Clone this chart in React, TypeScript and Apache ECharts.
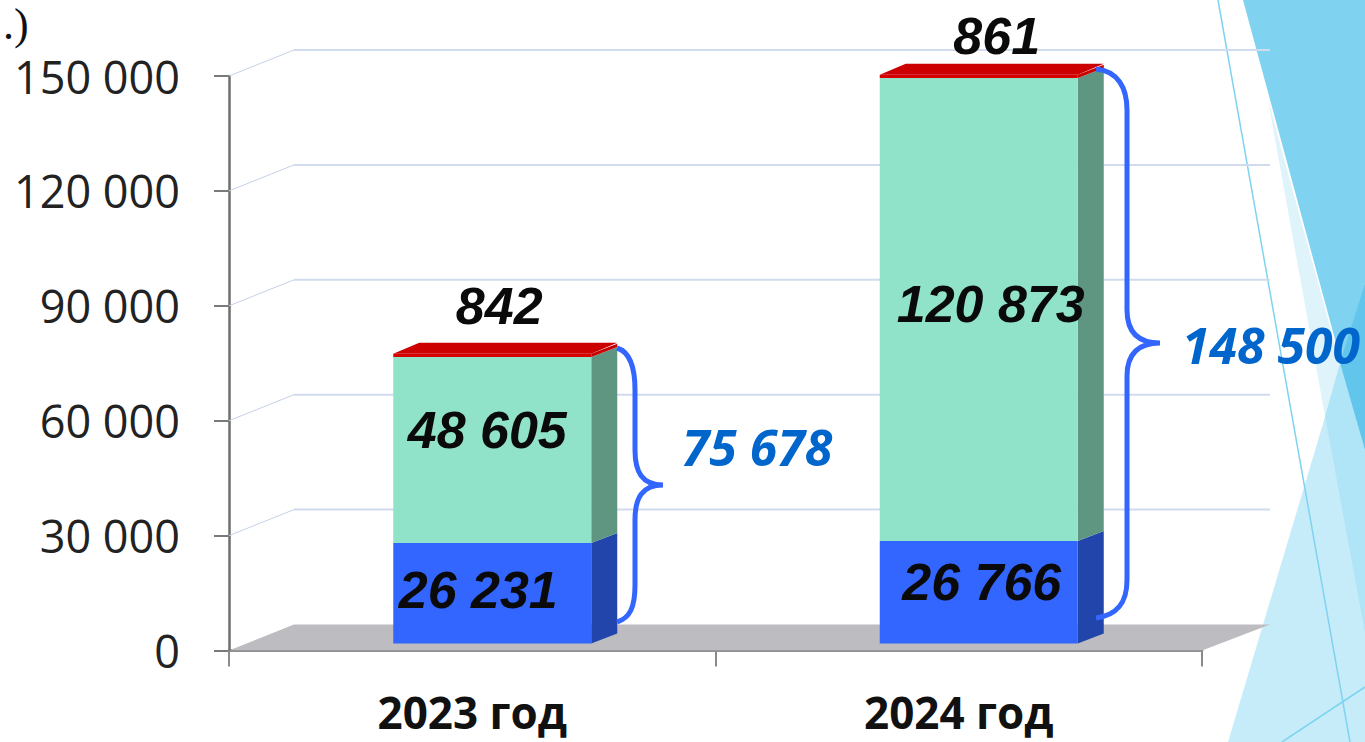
import React, { useEffect, useRef } from "react";
import * as echarts from "echarts";

const categories = ["2023 год", "2024 год"];
const blueValues = [26231, 26766];
const tealValues = [48605, 120873];
const redValues = [842, 861];
const totalLabels = ["75 678", "148 500"];
const yTicks = [0, 30000, 60000, 90000, 120000, 150000];

const fmt = (v: number) => String(v).replace(/\B(?=(\d{3})+$)/g, " ");

const DEPTH_X = 26;
const DEPTH_Y = 10;
const WALL_X = 65;
const WALL_Y = 26;
const BASE_LIFT = 7;
const BAR_SHIFT = 20;
const BAR_WIDTH = 198;

// label nudges relative to each segment: [dx, dy] per category
const blueShift = [[-14, -3], [3, -10]];
const tealShift = [[-5, -20], [12, -6]];
const redShift = [[7, -48], [18, -39]];

const stackSeries = (
  name: string,
  values: number[],
  bases: number[],
  front: string,
  side: string,
  shift: number[][],
  top: string | null,
) => ({
  type: "custom",
  name,
  z: 3,
  silent: true,
  coordinateSystem: "cartesian2d",
  encode: { x: 0, y: 2 },
  data: categories.map((c, i) => [i, bases[i], bases[i] + values[i], values[i]]),
  renderItem: (_p: any, api: any) => {
    const i = api.value(0);
    const c0 = api.coord([i, api.value(1)]);
    const c1 = api.coord([i, api.value(2)]);
    const yb = c0[1] - BASE_LIFT;
    const yt = c1[1] - BASE_LIFT;
    const cx = c0[0] + BAR_SHIFT;
    const xl = cx - BAR_WIDTH / 2;
    const xr = cx + BAR_WIDTH / 2;
    const children: any[] = [
      { type: "polygon", shape: { points: [[xr, yt], [xr + DEPTH_X, yt - DEPTH_Y], [xr + DEPTH_X, yb - DEPTH_Y], [xr, yb]] }, style: { fill: side } },
      { type: "rect", shape: { x: xl, y: yt, width: BAR_WIDTH, height: yb - yt }, style: { fill: front } },
    ];
    if (top) {
      children.push({ type: "polygon", shape: { points: [[xl, yt], [xl + DEPTH_X, yt - DEPTH_Y - 1], [xr + DEPTH_X, yt - DEPTH_Y - 1], [xr, yt]] }, style: { fill: top } });
    }
    const ly = top ? yt : (yt + yb) / 2;
    children.push({
      type: "text",
      style: {
        text: fmt(api.value(3)),
        x: cx + shift[i][0],
        y: ly + shift[i][1],
        align: "center",
        verticalAlign: "middle",
        fontFamily: "Liberation Sans",
        fontWeight: "bold",
        fontStyle: "italic",
        fontSize: 52,
        fill: "#0a0a0a",
      },
    });
    return { type: "group", children };
  },
});

const wallSeries = {
  type: "custom",
  z: 1,
  silent: true,
  coordinateSystem: "cartesian2d",
  encode: { y: 1 },
  data: yTicks.map((t) => [0, t]),
  renderItem: (p: any, api: any) => {
    const v = api.value(1);
    const y = api.coord([0, v])[1];
    const x0 = p.coordSys.x;
    const x1 = x0 + p.coordSys.width;
    if (v === 0) {
      return {
        type: "polygon",
        shape: { points: [[x0, y], [x0 + WALL_X, y - WALL_Y], [x1 + 68, y - WALL_Y], [x1, y]] },
        style: { fill: "#bdbdc1" },
      };
    }
    return {
      type: "group",
      children: [
        { type: "line", shape: { x1: x0, y1: y, x2: x0 + WALL_X, y2: y - WALL_Y }, style: { stroke: "#c5d2e6", lineWidth: 1 } },
        { type: "line", shape: { x1: x0 + WALL_X, y1: y - WALL_Y, x2: x1 + 68, y2: y - WALL_Y }, style: { stroke: "#d0dbee", lineWidth: 2 } },
      ],
    };
  },
};

echarts.graphic.registerShape(
  "brace1",
  echarts.graphic.extendPath("M617 348 C630 352 635 368 635 390 L635 450 C635 472 642 485 663 485 C642 485 635 498 635 520 L635 585 C635 607 630 618 617 622", {}),
);
echarts.graphic.registerShape(
  "brace2",
  echarts.graphic.extendPath("M1096 69 C1118 71 1127 88 1127 110 L1127 310 C1127 332 1138 343 1160 343 C1138 343 1127 354 1127 376 L1127 580 C1127 602 1118 615 1096 618", {}),
);

const poly = (points: number[][], fill: string) => ({ type: "polygon", silent: true, shape: { points }, style: { fill } });
const thin = (x1: number, y1: number, x2: number, y2: number) => ({
  type: "line", silent: true, shape: { x1, y1, x2, y2 }, style: { stroke: "#7fd3f0", lineWidth: 1.5 },
});

const decoration = [
  poly([[1243, 0], [1365, 0], [1365, 450]], "#7fd2f0"),
  poly([[1268, 100], [1325, 416], [1340, 363]], "#dff3fb"),
  poly([[1228, 742], [1365, 283], [1365, 742]], "#c6ecf9"),
  poly([[1325, 416], [1340, 363], [1365, 450], [1365, 633]], "#b0e4f7"),
  poly([[1340, 363], [1365, 283], [1365, 450]], "#62c6ec"),
  thin(1218, 0, 1350, 742),
  thin(1282, 742, 1365, 687),
];

const blueText = (text: string, x: number, y: number) => ({
  type: "text",
  z: 10,
  silent: true,
  style: { text, x, y, align: "center", verticalAlign: "middle", fontFamily: "Open Sans", fontWeight: "bold", fontStyle: "italic", fontSize: 50, fill: "#0066cc" },
});

export default function App() {
  const ref = useRef<HTMLDivElement>(null);
  useEffect(() => {
    const chart = echarts.init(ref.current!, null, { renderer: "svg" });
    chart.setOption({
      animation: false,
      backgroundColor: "#fff",
      grid: { left: 229, right: 163, top: 76, bottom: 91.5, containLabel: false },
      xAxis: {
        type: "category",
        data: categories,
        boundaryGap: true,
        axisLine: { lineStyle: { color: "#6e6e6e", width: 2.5 } },
        axisTick: { show: true, length: 16, lineStyle: { color: "#8a8a8a", width: 2 } },
        axisLabel: { color: "#111", fontFamily: "Open Sans", fontWeight: "bold", fontSize: 44, lineHeight: 44, margin: 39 },
      },
      yAxis: {
        type: "value",
        min: 0,
        max: 150000,
        interval: 30000,
        splitLine: { show: false },
        axisLine: { show: true, lineStyle: { color: "#6e6e6e", width: 2.5 } },
        axisTick: { show: true, length: 15, lineStyle: { color: "#7a7a7a", width: 2 } },
        axisLabel: { color: "#222", fontFamily: "Open Sans", fontSize: 45, margin: 49, padding: [5, 0, 0, 0], formatter: (v: number) => fmt(v) },
      },
      graphic: {
        elements: [
          ...decoration,
          { type: "brace1", z: 10, silent: true, style: { fill: "none", stroke: "#3366ff", lineWidth: 5 } },
          { type: "brace2", z: 10, silent: true, style: { fill: "none", stroke: "#3366ff", lineWidth: 5 } },
          blueText(totalLabels[0], 757, 447),
          blueText(totalLabels[1], 1271, 345),
          {
            type: "text",
            z: 10,
            silent: true,
            style: { text: ".)", x: 3, y: 2, align: "left", verticalAlign: "top", fontFamily: "Liberation Serif", fontSize: 44, fill: "#111" },
          },
        ],
      },
      series: [
        wallSeries,
        stackSeries("blue", blueValues, [0, 0], "#3366ff", "#2145ab", blueShift, null),
        stackSeries("teal", tealValues, blueValues, "#90e2c8", "#5f9682", tealShift, null),
        stackSeries("red", redValues, blueValues.map((b, i) => b + tealValues[i]), "#d60000", "#c80000", redShift, "#cc0000"),
      ],
    });
    return () => chart.dispose();
  }, []);
  return <div ref={ref} style={{ position: "fixed", left: 0, top: 0, width: 1365, height: 742 }} />;
}
